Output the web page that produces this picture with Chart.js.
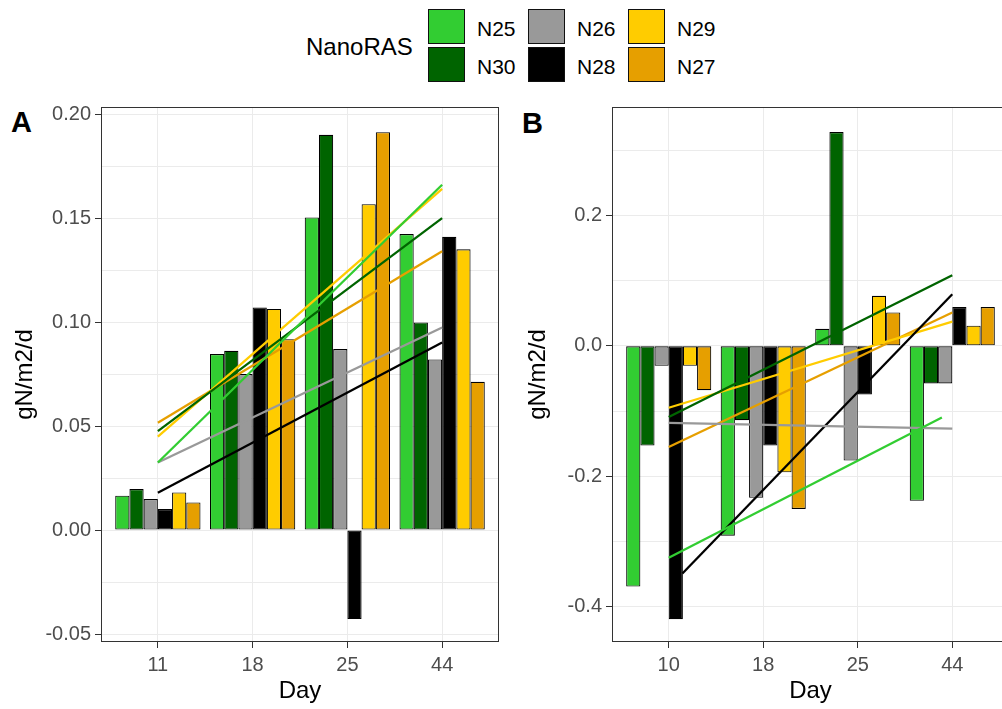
<!DOCTYPE html>
<html>
<head>
<meta charset="utf-8">
<script src="https://cdn.jsdelivr.net/npm/chart.js@4.4.1/dist/chart.umd.min.js"></script>
<style>
  body { margin: 0; background: #fff; }
  #wrap { position: relative; width: 1002px; height: 709px; overflow: hidden; background: #fff;
          font-family: 'Liberation Sans', Arial, sans-serif; }
  canvas { position: absolute; top: 95px; }
  #chartA { left: 0; }
  #chartB { left: 500px; }
  .txt { position: absolute; line-height: 1; white-space: nowrap; color: #000; }
  .tag { font-size: 29px; font-weight: bold; }
  .key { position: absolute; width: 35px; height: 33px; border: 1px solid #111; }
  .lab { font-size: 21px; }
</style>
</head>
<body>
<div id="wrap">
  <div class="txt" style="left:306px;top:35px;font-size:24px;">NanoRAS</div>
  <div id="legend"></div>
  <div class="txt tag" style="left:11px;top:108px;">A</div>
  <div class="txt tag" style="left:522px;top:109px;">B</div>
  <canvas id="chartA" width="505" height="614"></canvas>
  <canvas id="chartB" width="520" height="614"></canvas>
</div>

<script>
// --- Data ---

const seriesNames = ['N25', 'N30', 'N26', 'N28', 'N29', 'N27'];
const seriesColors = ['#32CD32', '#006400', '#999999', '#000000', '#FFCC00', '#E69F00'];

const daysA = ['11', '18', '25', '44'];
const daysB = ['10', '18', '25', '44'];

// bar heights per series (rows follow seriesNames), one value per day
const barsA = [
  [0.0165, 0.0846, 0.1503, 0.1423],
  [0.0197, 0.0862, 0.1900, 0.0998],
  [0.0149, 0.0750, 0.0870, 0.0820],
  [0.0101, 0.1070, -0.0428, 0.1410],
  [0.0181, 0.1063, 0.1567, 0.1350],
  [0.0133, 0.0918, 0.1913, 0.0713],
];
const barsB = [
  [-0.369, -0.291, 0.026, -0.2375],
  [-0.153, -0.114, 0.3275, -0.0577],
  [-0.0307, -0.233, -0.176, -0.0577],
  [-0.419, -0.153, -0.0745, 0.0593],
  [-0.0307, -0.194, 0.0766, 0.0307],
  [-0.068, -0.250, 0.0512, 0.0593],
];

// trend lines: start/end in day-index units, and their values
const trendXA = [[0, 3], [0, 3], [0, 3], [0, 3], [0, 3], [0, 3]];
const trendYA = [
  [0.0325, 0.166],
  [0.0476, 0.150],
  [0.0325, 0.0974],
  [0.0179, 0.0902],
  [0.0449, 0.164],
  [0.0516, 0.134],
];
const trendXB = [[0, 2.89], [0, 3], [0, 3], [0.145, 3], [0, 3], [0, 3]];
const trendYB = [
  [-0.325, -0.110],
  [-0.109, 0.108],
  [-0.118, -0.127],
  [-0.349, 0.079],
  [-0.095, 0.037],
  [-0.155, 0.051],
];

const ticksA = { min: -0.0538, max: 0.2034, step: 0.025, major: 0.05, digits: 2 };
const ticksB = { min: -0.454, max: 0.366, step: 0.1, major: 0.2, digits: 1 };

// --- Legend (html) ---

function renderLegend() {
  const cols = [428, 528, 628];
  const rows = [9, 47];
  const el = document.getElementById('legend');
  el.innerHTML = seriesNames.map((name, i) => {
    const c = Math.floor(i / 2), r = i % 2;
    return `
      <div class="key" style="left:${cols[c]}px;top:${rows[r]}px;background:${seriesColors[i]};"></div>
      <div class="txt lab" style="left:${cols[c] + 49}px;top:${rows[r] + 9}px;">${name}</div>
    `;
  }).join('');
}

// --- Chart helpers ---

const panelBorder = {
  id: 'panelBorder',
  afterDatasetsDraw(chart) {
    const { ctx, chartArea: a } = chart;
    ctx.save();
    ctx.strokeStyle = '#333333';
    ctx.lineWidth = 1;
    ctx.strokeRect(Math.round(a.left) + 0.5, Math.round(a.top) + 0.5,
      Math.round(a.right - a.left) - 1, Math.round(a.bottom - a.top) - 1);
    ctx.restore();
  },
};

function isMajor(v, major) {
  return Math.abs(v / major - Math.round(v / major)) < 1e-6;
}

function buildDatasets(bars, trendX, trendY) {
  const barSets = seriesNames.map((name, i) => ({
    type: 'bar',
    label: name,
    data: bars[i].map((v, j) => ({ x: j, y: v })),
    backgroundColor: seriesColors[i],
    borderColor: '#000',
    borderWidth: 1.1,
    borderSkipped: false,
    categoryPercentage: 0.9,
    barPercentage: 1,
    order: 1,
  }));
  const lineSets = seriesNames.map((name, i) => ({
    type: 'line',
    label: name + ' fit',
    data: trendX[i].map((x, j) => ({ x: x, y: trendY[i][j] })),
    borderColor: seriesColors[i],
    borderWidth: 2.3,
    pointRadius: 0,
    fill: false,
    order: 0,
  }));
  return barSets.concat(lineSets);
}

function makePanel(canvasId, days, bars, trendX, trendY, yt, yWidth, yTitlePad, padRight) {
  const ctx = document.getElementById(canvasId).getContext('2d');
  new Chart(ctx, {
    type: 'bar',
    data: { datasets: buildDatasets(bars, trendX, trendY) },
    plugins: [panelBorder],
    options: {
      responsive: false,
      animation: false,
      devicePixelRatio: 1,
      layout: { padding: { top: 12, right: padRight, bottom: 0, left: 0 } },
      plugins: { legend: { display: false }, tooltip: { enabled: false } },
      scales: {
        x: {
          type: 'linear',
          min: -0.6,
          max: 3.6,
          offset: false,
          afterBuildTicks: s => { s.ticks = days.map((d, i) => ({ value: i })); },
          afterFit: s => { s.height = 67; s.paddingLeft = 0; s.paddingRight = 0; },
          ticks: {
            callback: v => days[v],
            color: '#4d4d4d',
            font: { size: 20 },
            padding: 5,
            maxRotation: 0,
          },
          grid: { offset: false, color: '#ebebeb', tickColor: '#333333', tickLength: 6 },
          border: { display: false },
          title: { display: true, text: 'Day', color: '#000', font: { size: 24 }, padding: { top: 0, bottom: 3 } },
        },
        y: {
          min: yt.min,
          max: yt.max,
          afterFit: s => { s.width = yWidth; s.paddingTop = 0; s.paddingBottom = 0; },
          ticks: {
            stepSize: yt.step,
            includeBounds: false,
            autoSkip: false,
            color: '#4d4d4d',
            font: { size: 20 },
            padding: 4,
            callback: v => isMajor(v, yt.major) ? v.toFixed(yt.digits) : '',
          },
          grid: {
            color: '#ebebeb',
            tickLength: 6,
            tickColor: c => isMajor(c.tick.value, yt.major) ? '#333333' : 'rgba(0,0,0,0)',
          },
          border: { display: false },
          title: { display: true, text: 'gN/m2/d', color: '#000', font: { size: 24 }, padding: { top: yTitlePad, bottom: 0 } },
        },
      },
    },
  });
}

// --- Init ---
Chart.defaults.font.family = "'Liberation Sans', Arial, sans-serif";
renderLegend();
makePanel('chartA', daysA, barsA, trendXA, trendYA, ticksA, 101, 11, 6);
makePanel('chartB', daysB, barsB, trendXB, trendYB, ticksB, 112, 24, 11);
</script>
</body>
</html>
